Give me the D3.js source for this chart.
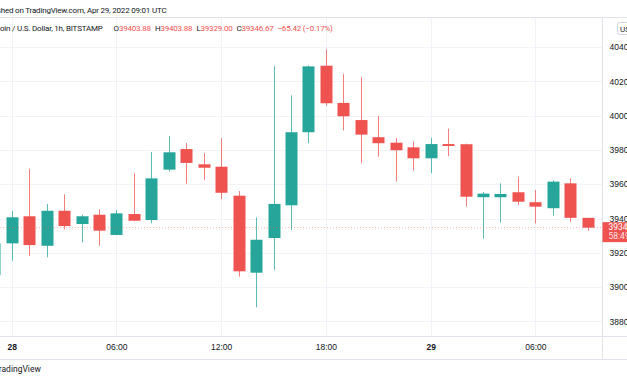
<!DOCTYPE html>
<html>
<head>
<meta charset="utf-8">
<script src="https://cdn.jsdelivr.net/npm/d3@7"></script>
<style>
  html, body { margin: 0; padding: 0; background: #fff; }
  svg { display: block; font-family: Roboto, "Noto Sans", sans-serif; }
</style>
</head>
<body>
<div id="chart"></div>
<script>
// BTC/USD hourly candles, Bitstamp, Apr 27 23:00 .. Apr 29 09:00 UTC
const times = [
    "2022-04-27T23:00Z",
    "2022-04-28T00:00Z", "2022-04-28T01:00Z", "2022-04-28T02:00Z", "2022-04-28T03:00Z",
    "2022-04-28T04:00Z", "2022-04-28T05:00Z", "2022-04-28T06:00Z", "2022-04-28T07:00Z",
    "2022-04-28T08:00Z", "2022-04-28T09:00Z", "2022-04-28T10:00Z", "2022-04-28T11:00Z",
    "2022-04-28T12:00Z", "2022-04-28T13:00Z", "2022-04-28T14:00Z", "2022-04-28T15:00Z",
    "2022-04-28T16:00Z", "2022-04-28T17:00Z", "2022-04-28T18:00Z", "2022-04-28T19:00Z",
    "2022-04-28T20:00Z", "2022-04-28T21:00Z", "2022-04-28T22:00Z", "2022-04-28T23:00Z",
    "2022-04-29T00:00Z", "2022-04-29T01:00Z", "2022-04-29T02:00Z", "2022-04-29T03:00Z",
    "2022-04-29T04:00Z", "2022-04-29T05:00Z", "2022-04-29T06:00Z", "2022-04-29T07:00Z",
    "2022-04-29T08:00Z", "2022-04-29T09:00Z"
];
const opens  = [39070, 39255, 39413, 39241, 39445, 39368, 39422, 39304, 39426, 39391, 39685, 39805, 39716,
                39702, 39533, 39084, 39286, 39477, 39903, 40291, 40074, 39974, 39874, 39842, 39815,
                39751, 39834, 39833, 39524, 39524, 39553, 39495, 39460, 39605, 39403.88];
const highs  = [39290, 39445, 39690, 39485, 39541, 39422, 39454, 39450, 39664, 39788, 39881, 39840, 39782,
                39869, 39560, 39407, 40289, 40118, 40292, 40387, 40244, 40225, 39998, 39869, 39850,
                39871, 39924, 39836, 39555, 39605, 39644, 39566, 39623, 39634, 39403.88];
const lows   = [39060, 39154, 39181, 39174, 39337, 39261, 39240, 39304, 39385, 39372, 39673, 39603, 39625,
                39512, 39061, 38882, 39100, 39333, 39838, 40058, 39914, 39722, 39760, 39615, 39679,
                39664, 39764, 39469, 39282, 39376, 39479, 39372, 39416, 39381, 39329.00];
const closes = [39255, 39407, 39245, 39445, 39356, 39413, 39329, 39430, 39387, 39634, 39786, 39724, 39696,
                39550, 39092, 39276, 39485, 39903, 40287, 40072, 39996, 39889, 39839, 39798, 39751,
                39834, 39823, 39527, 39545, 39543, 39498, 39469, 39615, 39403.88, 39346.67];

const priceTicks = [40400, 40200, 40000, 39800, 39600, 39400, 39200, 39000, 38800];
const timeTicks = ["2022-04-28T00:00Z", "2022-04-28T06:00Z", "2022-04-28T12:00Z",
                   "2022-04-28T18:00Z", "2022-04-29T00:00Z", "2022-04-29T06:00Z"];
const timeTickLabels = ["28", "06:00", "12:00", "18:00", "29", "06:00"];
const boldTicks = ["28", "29"];

const lastPrice = 39346.67;
const countdown = "58:49";

const W = 627, H = 376;
const plot = {left: 0, right: 602.5, top: 18, bottom: 336};
const upColor = '#26a69a', downColor = '#ef5350';
const gridColor = '#f0f3fa', textColor = '#131722', lineColor = '#e0e3eb';

const candles = times.map((t, i) => ({
    date: new Date(t),
    open: opens[i], high: highs[i], low: lows[i], close: closes[i]
}));

const x = d3.scaleUtc()
    .domain([new Date(timeTicks[0]), new Date(timeTicks[5])])
    .range([11.7, 535.4]);

const y = d3.scaleLinear()
    .domain([38800, 40400])
    .range([321.4, 47]);

const svg = d3.select('#chart').append('svg')
    .attr('width', W)
    .attr('height', H);

svg.append('rect').attr('width', W).attr('height', H).attr('fill', '#fff');

svg.append('clipPath').attr('id', 'plot-clip')
    .append('rect')
    .attr('x', plot.left).attr('y', plot.top)
    .attr('width', plot.right - plot.left).attr('height', plot.bottom - plot.top);

// Grid
const grid = svg.append('g');
grid.selectAll('line.h')
    .data(priceTicks)
    .join('line')
    .attr('x1', plot.left).attr('x2', plot.right)
    .attr('y1', d => Math.round(y(d)) + 0.5).attr('y2', d => Math.round(y(d)) + 0.5)
    .attr('stroke', gridColor);
grid.selectAll('line.v')
    .data(timeTicks)
    .join('line')
    .attr('x1', d => Math.round(x(new Date(d))) + 0.5).attr('x2', d => Math.round(x(new Date(d))) + 0.5)
    .attr('y1', plot.top).attr('y2', plot.bottom)
    .attr('stroke', gridColor);

// Candles
const bodyW = 12;
const cg = svg.append('g').attr('clip-path', 'url(#plot-clip)');
const candle = cg.selectAll('g.candle')
    .data(candles)
    .join('g');

candle.append('line')
    .attr('x1', d => Math.round(x(d.date)) + 0.5)
    .attr('x2', d => Math.round(x(d.date)) + 0.5)
    .attr('y1', d => y(d.high))
    .attr('y2', d => y(d.low))
    .attr('stroke', d => d.close >= d.open ? upColor : downColor)
    .attr('stroke-opacity', 0.75)
    .attr('stroke-width', 1);

candle.append('rect')
    .attr('x', d => Math.round(x(d.date)) + 0.5 - bodyW / 2)
    .attr('y', d => y(Math.max(d.open, d.close)))
    .attr('width', bodyW)
    .attr('height', d => Math.max(1.5, Math.abs(y(d.open) - y(d.close))))
    .attr('fill', d => d.close >= d.open ? upColor : downColor);

// Last price dotted line
svg.append('line')
    .attr('x1', plot.left).attr('x2', plot.right)
    .attr('y1', y(lastPrice)).attr('y2', y(lastPrice))
    .attr('stroke', downColor)
    .attr('stroke-opacity', 0.45)
    .attr('stroke-dasharray', '1,2');

// Frame lines
svg.append('line')
    .attr('x1', 0).attr('x2', W).attr('y1', plot.top - 0.5).attr('y2', plot.top - 0.5)
    .attr('stroke', lineColor);
svg.append('line')
    .attr('x1', 0).attr('x2', W).attr('y1', plot.bottom + 0.5).attr('y2', plot.bottom + 0.5)
    .attr('stroke', lineColor);
svg.append('line')
    .attr('x1', 0).attr('x2', W).attr('y1', 359.5).attr('y2', 359.5)
    .attr('stroke', lineColor);
svg.append('line')
    .attr('x1', plot.right).attr('x2', plot.right).attr('y1', plot.top).attr('y2', 359)
    .attr('stroke', lineColor);

// Price axis
const yAxis = svg.append('g')
    .attr('transform', `translate(${plot.right},0)`)
    .call(d3.axisRight(y).tickValues(priceTicks).tickFormat(d3.format('.2f')).tickSize(0).tickPadding(7));
yAxis.select('.domain').remove();
yAxis.selectAll('text')
    .attr('fill', textColor)
    .style('font-size', '8.5px');

// Time axis
const xAxis = svg.append('g')
    .attr('transform', `translate(0,${plot.bottom})`)
    .call(d3.axisBottom(x).tickValues(timeTicks.map(d => new Date(d)))
        .tickFormat((d, i) => timeTickLabels[i]).tickSize(0).tickPadding(8));
xAxis.select('.domain').remove();
xAxis.selectAll('text')
    .attr('fill', textColor)
    .style('font-size', '8.5px')
    .style('font-weight', (d, i) => boldTicks.includes(timeTickLabels[i]) ? 'bold' : 'normal');

// Last price label
const tag = svg.append('g').attr('transform', `translate(${plot.right},${y(lastPrice) - 5.5})`);
tag.append('rect')
    .attr('width', 30).attr('height', 20)
    .attr('fill', downColor);
tag.append('text')
    .attr('x', 6).attr('y', 8)
    .attr('fill', '#fff').style('font-size', '8.5px')
    .text(lastPrice.toFixed(2));
tag.append('text')
    .attr('x', 6).attr('y', 17)
    .attr('fill', '#fff').attr('fill-opacity', 0.85).style('font-size', '8.5px')
    .text(countdown);

// Header
svg.append('text')
    .attr('x', -20).attr('y', 13)
    .attr('fill', textColor)
    .style('font-size', '8px')
    .style('letter-spacing', '-0.2px')
    .text('Published on TradingView.com, Apr 29, 2022 09:01 UTC');

const legend = svg.append('text')
    .attr('x', -13).attr('y', 31)
    .style('font-size', '8px')
    .style('letter-spacing', '-0.2px')
    .attr('fill', textColor);
legend.append('tspan').text('Bitcoin / U.S. Dollar, 1h, BITSTAMP');
const ohlc = [['O', '39403.88'], ['H', '39403.88'], ['L', '39329.00'], ['C', '39346.67']];
ohlc.forEach(([k, v], i) => {
    legend.append('tspan').attr('dx', i === 0 ? 11 : 4).attr('fill', textColor).text(k);
    legend.append('tspan').attr('fill', downColor).text(v);
});
legend.append('tspan').attr('dx', 4).attr('fill', downColor).text('\u221265.42 (\u22120.17%)');

// Currency button
svg.append('rect')
    .attr('x', 617.5).attr('y', 22.5).attr('width', 20).attr('height', 12).attr('rx', 2)
    .attr('fill', '#fff').attr('stroke', '#d1d4dc');
svg.append('text')
    .attr('x', 620).attr('y', 31.5)
    .attr('fill', textColor).style('font-size', '8px')
    .text('USD');

// Footer
svg.append('text')
    .attr('x', -6).attr('y', 372)
    .attr('fill', textColor)
    .style('font-size', '8.5px')
    .text('TradingView');
</script>
</body>
</html>
